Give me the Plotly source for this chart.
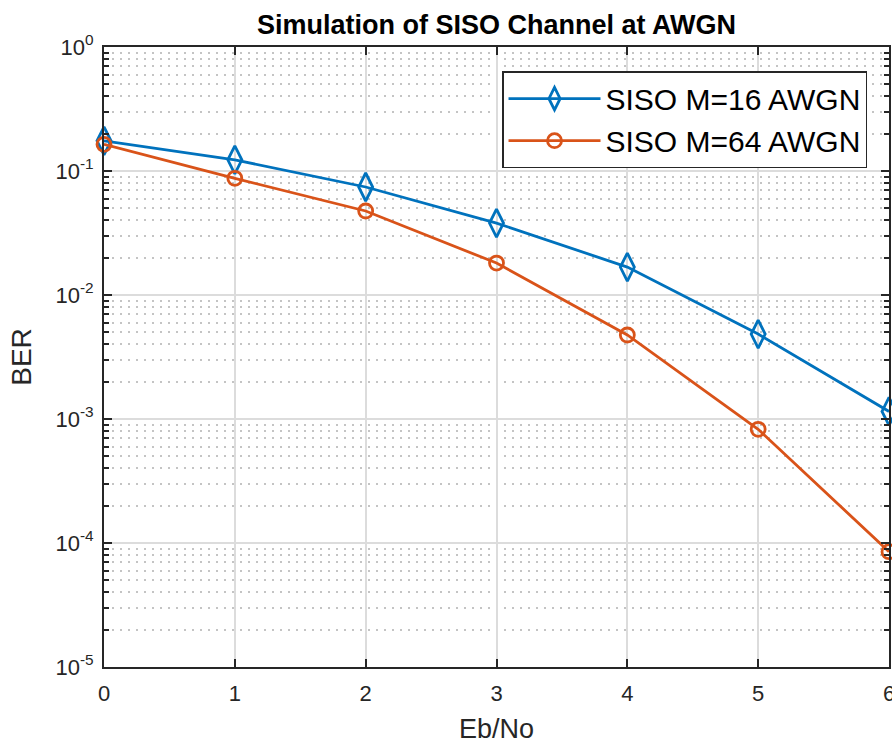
import plotly.graph_objects as go

ebno = [0, 1, 2, 3, 4, 5, 6]
ber_m16 = [0.175, 0.123, 0.0743, 0.038, 0.0168, 0.00484, 0.00115]
ber_m64 = [0.164, 0.0873, 0.0476, 0.0181, 0.00476, 0.000826, 0.0000851]
y_tickvals = [1e-5, 1e-4, 1e-3, 1e-2, 1e-1, 1e0]
y_ticktext = ["10<sup>-5</sup>", "10<sup>-4</sup>", "10<sup>-3</sup>",
              "10<sup>-2</sup>", "10<sup>-1</sup>", "10<sup>0</sup>"]
x_tickvals = [0, 1, 2, 3, 4, 5, 6]
y_minor_vals = [k * 10.0 ** e for e in range(-5, 0) for k in range(2, 10)]

FONT = "Liberation Sans, Arial, Helvetica, sans-serif"

fig = go.Figure()
fig.add_trace(go.Scatter(
    x=ebno, y=ber_m16, name="SISO M=16 AWGN", mode="lines+markers",
    line=dict(color="#0072BD", width=2.8),
    marker=dict(symbol="diamond-tall-open", size=20, color="#0072BD", line=dict(width=2.8)),
    cliponaxis=False))
fig.add_trace(go.Scatter(
    x=ebno, y=ber_m64, name="SISO M=64 AWGN", mode="lines+markers",
    line=dict(color="#D95319", width=2.8),
    marker=dict(symbol="circle-open", size=14, color="#D95319", line=dict(width=2.8)),
    cliponaxis=False))

fig.update_layout(
    width=892, height=744,
    margin=dict(l=104, r=3, t=47, b=77, autoexpand=False),
    paper_bgcolor="white", plot_bgcolor="white",
    font=dict(family=FONT, color="#262626"),
    title=dict(text="<b>Simulation of SISO Channel at AWGN</b>", x=(104 + 889) / 2 / 892,
               xanchor="center", y=1 - 25 / 744, yanchor="middle",
               font=dict(size=27, color="black", family=FONT)),
    showlegend=True,
    legend=dict(x=0.972, y=0.961, xanchor="right", yanchor="top",
                bgcolor="white", bordercolor="#262626", borderwidth=1.5,
                font=dict(size=30, color="black", family=FONT),
                itemwidth=92, tracegroupgap=0),
)
fig.update_xaxes(
    range=[0, 6], tickvals=x_tickvals, ticks="inside", ticklen=8, tickcolor="#262626",
    tickwidth=1.5, ticklabelstandoff=6, ticklabeloverflow="allow", automargin=False,
    showline=True, linecolor="#262626", linewidth=2, mirror="ticks",
    showgrid=True, gridcolor="#DCDCDC", gridwidth=1.5, zeroline=False,
    tickfont=dict(size=22, color="#262626"),
    title=dict(text="Eb/No", font=dict(size=27, color="#262626"), standoff=20),
)
fig.update_yaxes(
    type="log", range=[-5, 0], tickvals=y_tickvals, ticktext=y_ticktext,
    ticks="inside", ticklen=8, tickcolor="#262626", tickwidth=1.5,
    ticklabelstandoff=4, automargin=False,
    showline=True, linecolor="#262626", linewidth=2, mirror="ticks",
    showgrid=True, gridcolor="#DCDCDC", gridwidth=1.5, zeroline=False,
    tickfont=dict(size=22, color="#262626"),
    minor=dict(tickvals=y_minor_vals, ticks="inside", ticklen=5, tickcolor="#262626",
               tickwidth=1.5, showgrid=True,
               gridcolor="#C4C4C4", griddash="2px,6px", gridwidth=1.5),
    title=dict(text="BER", font=dict(size=28, color="#262626"), standoff=16),
)

fig.write_html("out.html")
